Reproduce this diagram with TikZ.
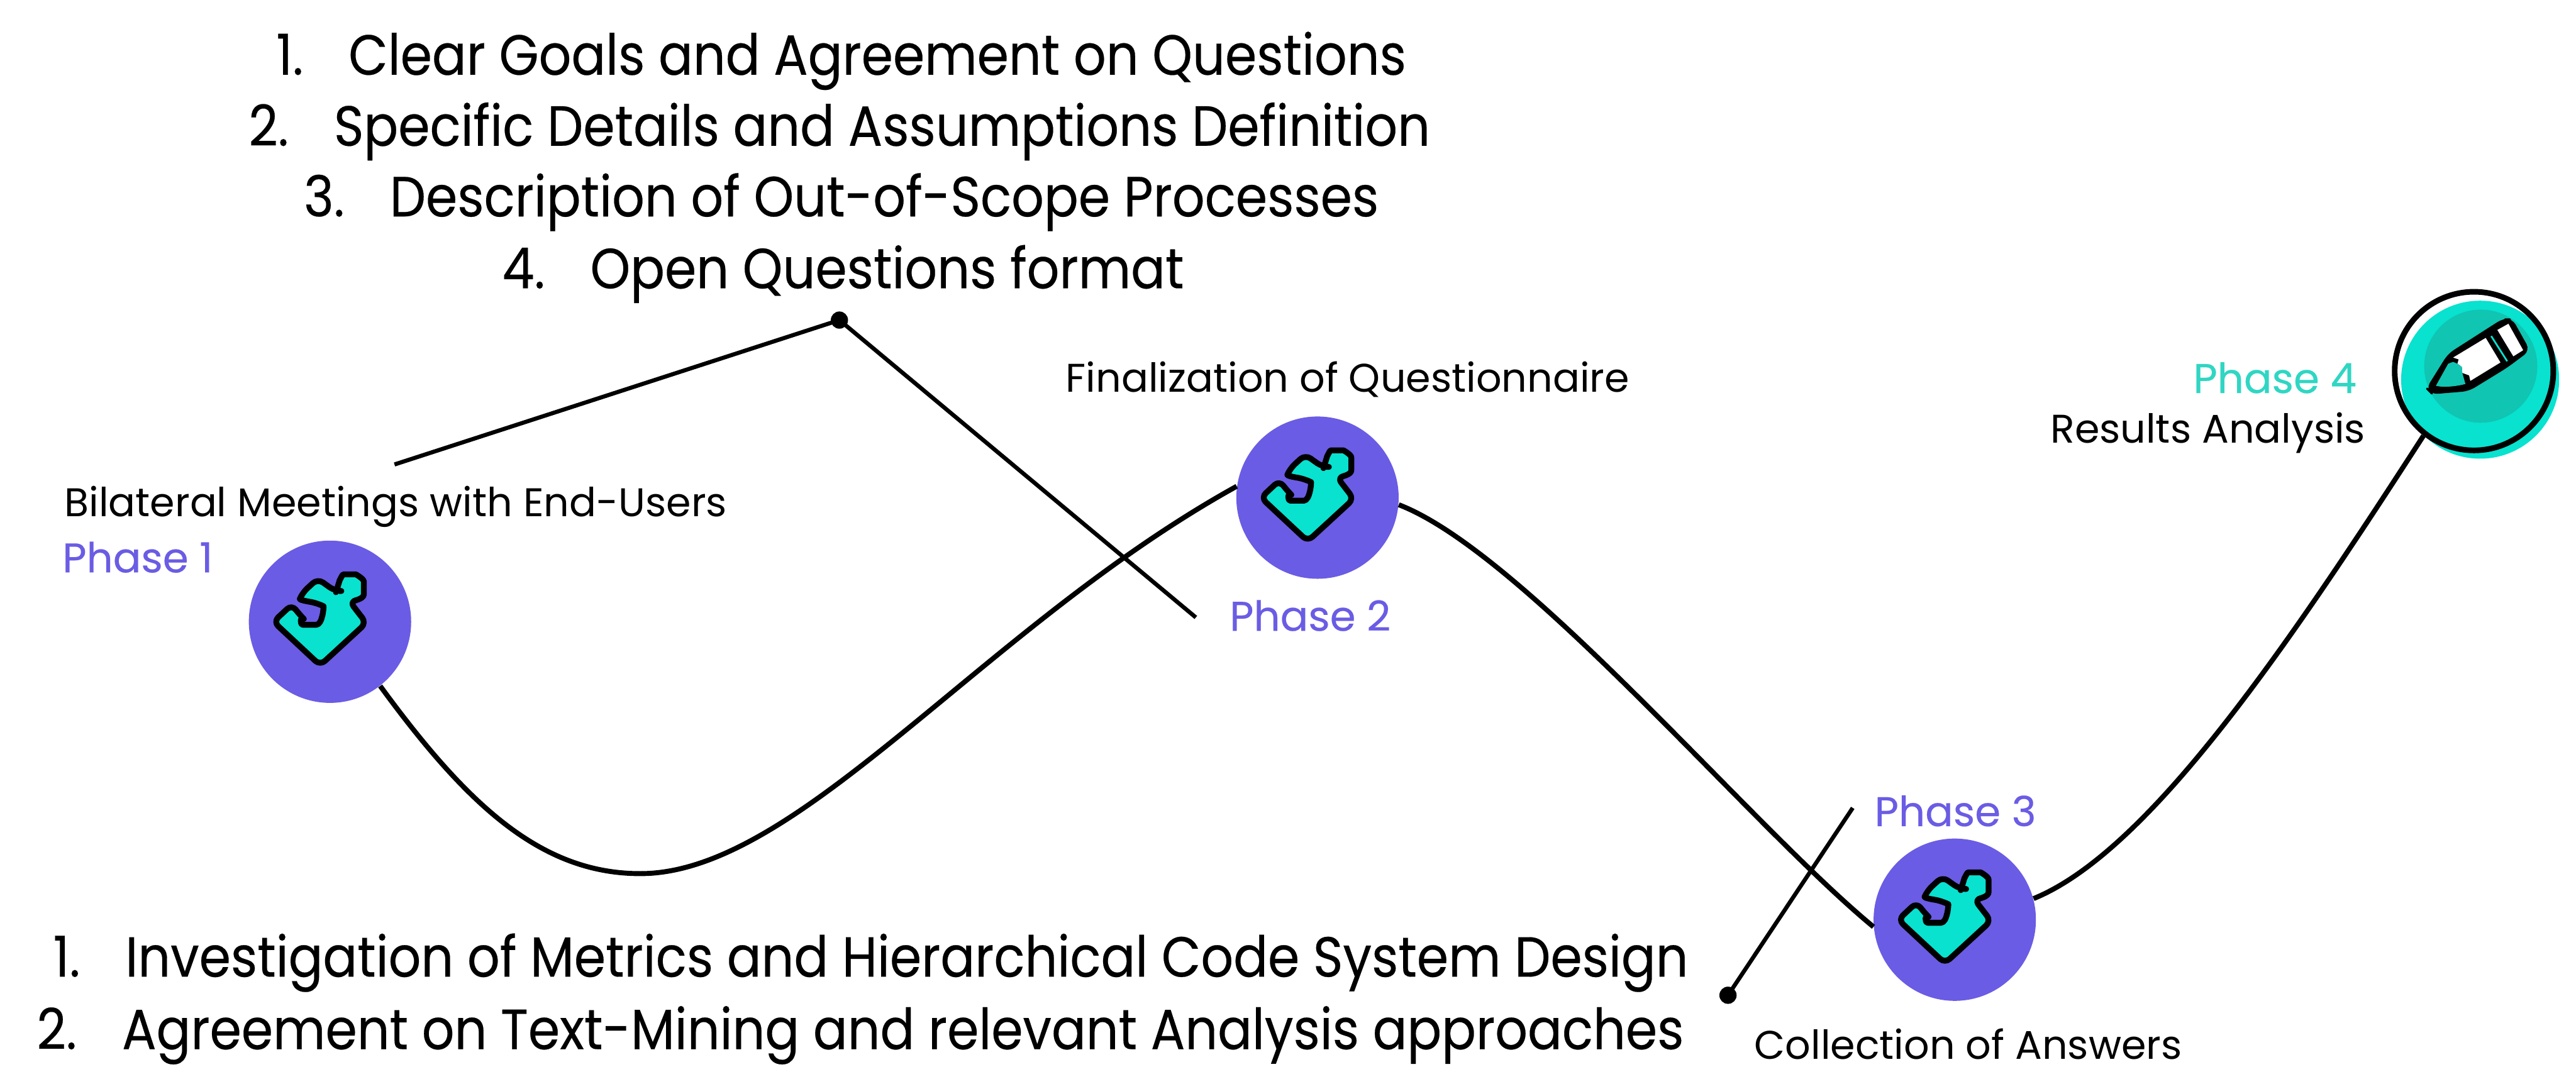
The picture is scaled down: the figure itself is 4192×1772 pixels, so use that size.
\documentclass[tikz,border=0pt]{standalone}
\usepackage{fontspec}
\setmainfont{Poppins}
\newfontfamily\listface[FakeStretch=0.9,FakeBold=0.25]{Poppins}
\newfontfamily\labelface[FakeBold=0.3]{Poppins}
\usetikzlibrary{positioning}
\definecolor{phaseblue}{HTML}{6A5CE4}
\definecolor{phaseteal}{HTML}{08E2CF}
\definecolor{phasedark}{HTML}{10C5B2}
\definecolor{labelteal}{HTML}{2FD6C3}

\tikzset{
  puzzle/.pic={
    \draw[line width=2.7pt, fill=phaseteal, rounded corners=3pt, line join=round]
      (-16,71) -- (59,2) -- (32,-33)
      .. controls (42,-35) and (55,-38) .. (55,-55)
      .. controls (55,-70) and (42,-77) .. (32,-77)
      .. controls (20,-77) and (15,-65) .. (13,-58)
      .. controls (11,-52) and (9,-50) .. (8,-50)
      -- (-20,-70) -- (-45,-47)
      .. controls (-50,-35) and (-30,-32) .. (-20,-30)
      .. controls (-10,-25) and (-12,5) .. (-33,5)
      .. controls (-50,5) and (-48,-10) .. (-50,-12)
      -- (-62,-28) -- (-92,0) -- cycle;
  },
  pencil/.pic={
    \draw[line width=1pt, fill=black, rounded corners=3pt, line join=round]
      (-87,38) -- (-52,-18) -- (37,-75) -- (50,-75) -- (78,-25) -- (42,2) -- (-20,40) -- (-80,45) -- cycle;
    \fill[white] (-45,-13) -- (8,-45) -- (32,-5) -- (-17,25)
      -- (-19,16) -- (-30,12) -- (-31,2) -- (-38,-3) -- (-36,-10) -- cycle;
    \fill[white] (27,-58) -- (45,-68) -- (69,-25) -- (53,-15) -- cycle;
    \draw[phaseteal, line width=.8pt] (17,-48) -- (43,-7);
    \fill[phasedark] (-73,33) -- (-53,-3) -- (-45,-6) -- (-38,-3) -- (-31,2) -- (-30,12) -- (-25,30)
      .. controls (-40,34) and (-60,36) .. (-73,33);
  }
}

\begin{document}
\begin{tikzpicture}[
    x=0.01cm,
    y=-0.01cm,
    listitem/.style={font=\listface\fontsize{26.2}{30}\selectfont, text=black, inner sep=0},
    caption/.style={font=\fontsize{18.5}{22}\selectfont, text=black, inner sep=0},
    phaselabel/.style={font=\labelface\fontsize{19.2}{22}\selectfont, text=phaseblue, inner sep=0},
    phasedot/.style={circle, fill=phaseblue, minimum size=2.64cm, inner sep=0},
    curve/.style={line width=2.3pt},
    leader/.style={line width=1.9pt},
    enddot/.style={circle, fill=black, minimum size=0.28cm, inner sep=0}
    ]
    \useasboundingbox (0,0) rectangle (4192,1772);

    \node [phasedot] (P1) at (537,1012) {};
    \node [phasedot] (P2) at (2144,810) {};
    \node [phasedot] (P3) at (3181,1497) {};
    \node [circle, fill=phaseteal, minimum size=2.57cm, inner sep=0] (P4) at (4036,618) {};
    \node [circle, fill=phasedark, minimum size=1.84cm, inner sep=0] (P4in) at (4037,596) {};
    \node [circle, draw, line width=2.6pt, minimum size=2.58cm, inner sep=0] (P4out) at (4026,604) {};

    \pic at (P1) {puzzle};
    \pic at (P2) {puzzle};
    \pic at (P3) {puzzle};
    \pic at (4037,595) {pencil};

    \node [listitem] (top1) at (1369,99) {1.\hspace{0.8em}Clear Goals and Agreement on Questions};
    \node [listitem] (top2) at (1366,214) {2.\hspace{0.8em}Specific Details and Assumptions Definition};
    \node [listitem] (top3) at (1369,329) {3.\hspace{0.8em}Description of Out-of-Scope Processes};
    \node [listitem] (top4) at (1372,446) {4.\hspace{0.8em}Open Questions format};
    \node [listitem] (bot1) at (1417,1567) {1.\hspace{0.8em}Investigation of Metrics and Hierarchical Code System Design};
    \node [listitem] (bot2) at (1400,1685) {2.\hspace{0.8em}Agreement on Text-Mining and relevant Analysis approaches};

    \node [caption] (cap1) at (644,825) {Bilateral Meetings with End-Users};
    \node [caption] (cap2) at (2193,618) {Finalization of Questionnaire};
    \node [caption] (cap3) at (3203,1699) {Collection of Answers};
    \node [caption] (cap4) at (3593,705) {Results Analysis};
    \node [phaselabel] (ph1) at (224,907) {Phase 1};
    \node [phaselabel] (ph2) at (2132,1002) {Phase 2};
    \node [phaselabel] (ph3) at (3182,1320) {Phase 3};
    \node [phaselabel, text=labelteal] (ph4) at (3702,615) {Phase 4};

    \node [enddot] (dotA) at (1366,521) {};
    \node [enddot] (dotB) at (2812,1620) {};
    \coordinate (legA) at (642,756);
    \coordinate (legB) at (1946,1005);
    \coordinate (legC) at (3015,1315);

    \draw[curve] (P1.-52) .. controls (760,1310) and (880,1422) .. (1042,1422)
       .. controls (1300,1422) and (1600,1020) .. (P2.172);
    \draw[curve] (P2.-5) .. controls (2480,900) and (2850,1345) .. (P3.185);
    \draw[curve] (P3.15) .. controls (3500,1385) and (3730,1040) .. (P4out.-128);

    \draw[leader] (legA) -- (dotA.center) -- (legB);
    \draw[leader] (legC) -- (dotB.center);
\end{tikzpicture}
\end{document}
